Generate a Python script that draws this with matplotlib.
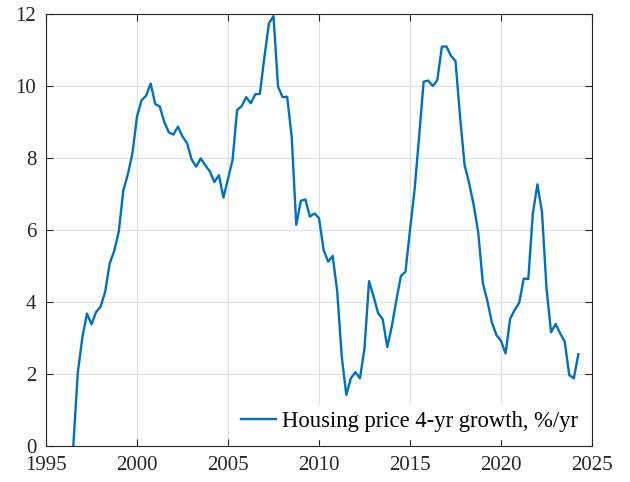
import numpy as np
import matplotlib
matplotlib.use("Agg")
import matplotlib.pyplot as plt

# quarterly, starting 1996 Q3
years = np.arange(1996.5, 2024.3, 0.25)
growth = [
	0.0, 2.05, 3.02, 3.68, 3.38, 3.72, 3.87, 4.28, 5.07, 5.42,
	5.96, 7.1, 7.55, 8.13, 9.15, 9.6, 9.73, 10.07, 9.5, 9.43,
	9.0, 8.71, 8.65, 8.87, 8.6, 8.41, 7.96, 7.76, 7.99, 7.8,
	7.63, 7.33, 7.52, 6.9, 7.42, 7.94, 9.33, 9.44, 9.69, 9.52,
	9.77, 9.78, 10.8, 11.74, 11.94, 9.98, 9.69, 9.7, 8.59, 6.14,
	6.81, 6.85, 6.37, 6.46, 6.33, 5.45, 5.12, 5.28, 4.3, 2.48,
	1.42, 1.88, 2.05, 1.88, 2.71, 4.58, 4.15, 3.69, 3.52, 2.75,
	3.32, 4.05, 4.72, 4.84, 6.0, 7.11, 8.59, 10.12, 10.15, 10.0,
	10.16, 11.09, 11.1, 10.84, 10.69, 9.15, 7.8, 7.3, 6.69, 5.93,
	4.53, 4.03, 3.43, 3.08, 2.92, 2.57, 3.53, 3.78, 3.98, 4.65,
	4.64, 6.46, 7.27, 6.51, 4.38, 3.16, 3.39, 3.13, 2.9, 1.97,
	1.88, 2.55,
]
xticks = [1995, 2000, 2005, 2010, 2015, 2020, 2025]
yticks = [0, 2, 4, 6, 8, 10, 12]
label = "Housing price 4-yr growth, %/yr"

plt.rcParams["font.family"] = ["Liberation Serif", "DejaVu Serif"]
plt.rcParams["font.size"] = 15

fig = plt.figure(figsize=(6.3, 4.82), dpi=100)
ax = fig.add_axes([0.073, 0.0747, 0.8667, 0.8963])

ax.plot(years, growth, color="#0072BD", lw=1.7, label=label)

ax.set_xlim(1995, 2025)
ax.set_ylim(0, 12)
ax.set_xticks(xticks)
ax.set_yticks(yticks)
ax.grid(True, color="#e0e0e0", lw=0.8)
ax.set_axisbelow(True)
ax.tick_params(direction="in", top=True, right=True, length=5, width=0.8,
	colors="#262626", labelcolor="#262626")
ax.tick_params(axis="y", pad=7)
ax.tick_params(axis="x", pad=7)
for s in ax.spines.values():
	s.set_color("#262626")
	s.set_linewidth(0.8)

leg = ax.legend(loc="lower right", frameon=True, fancybox=False, framealpha=1,
	edgecolor="white", facecolor="white", handlelength=1.55, handletextpad=0.3,
	borderaxespad=0.3, borderpad=0.3, fontsize=16.3)

fig.savefig("out.png", dpi=100)
